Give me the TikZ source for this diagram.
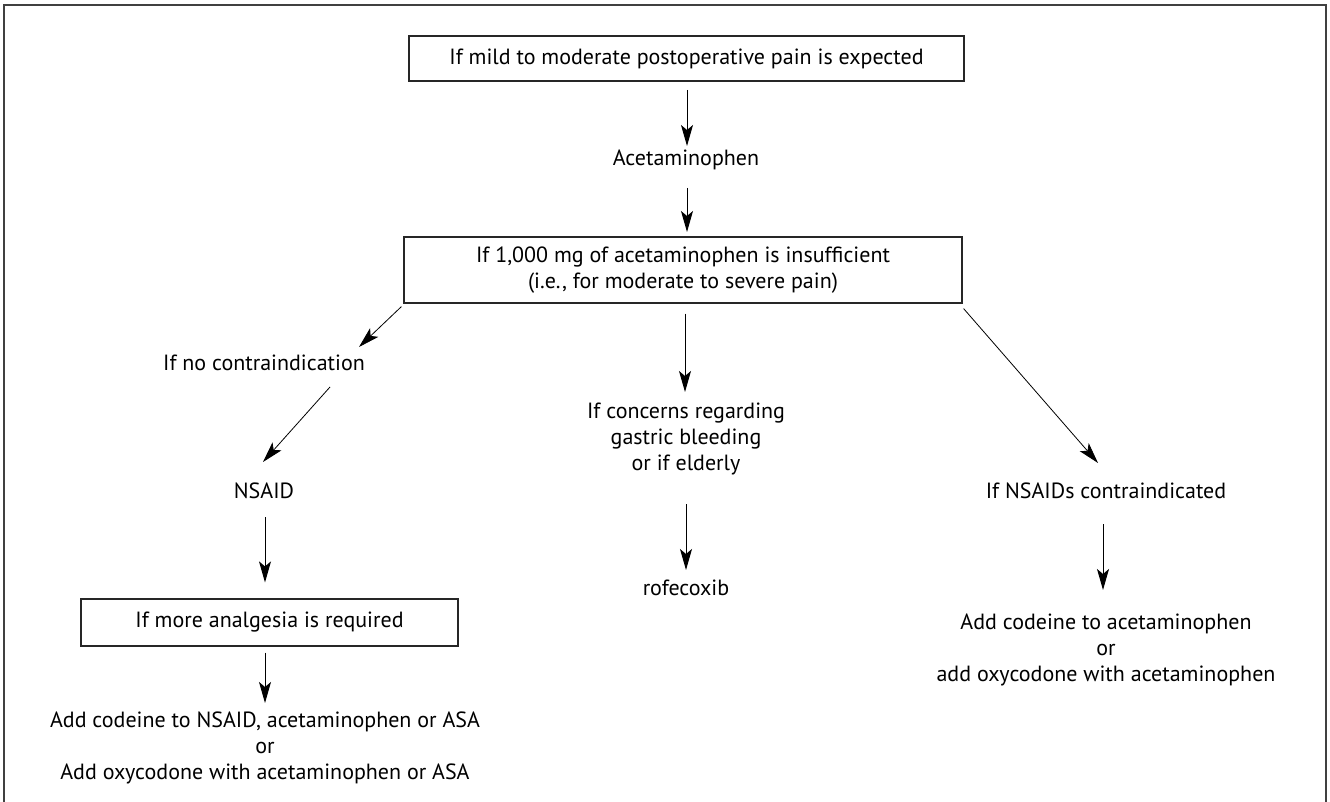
\documentclass[tikz,border=0pt]{standalone}
\usepackage{fontspec}
\setmainfont{PT Sans}
\usetikzlibrary{arrows.meta,calc}
\tikzset{
  boxnode/.style={draw=black!85, line width=1.2pt, minimum width=#1, inner sep=0pt, align=center, font=\txtfont},
  txt/.style={inner sep=0pt, align=center, font=\txtfont},
  arr/.style={draw=black, line width=1pt, -{Stealth[length=21pt, width=12pt, inset=5pt]}},
  arrthin/.style={draw=black, line width=0.8pt, -{Stealth[length=21pt, width=12pt, inset=5pt]}}
}
\newcommand{\txtfont}{\fontsize{22}{26}\selectfont}
\begin{document}
\begin{tikzpicture}[x=1pt,y=-1pt]
\useasboundingbox (0,0) rectangle (1330,802);
\fill[white] (0,0) rectangle (1330,802);
% outer frame
\draw[black!75, line width=1.5pt] (4,812) -- (4,5) -- (1326,5) -- (1326,812);

% nodes
\node[boxnode=555pt, minimum height=45pt] (top) at (686.5,58.5) {If mild to moderate postoperative pain is expected};
\node[txt] (acet) at (686,160) {Acetaminophen};
\node[boxnode=558pt, minimum height=66pt] (box2) at (683,270) {If 1,000 mg of acetaminophen is insufficient\\(i.e., for moderate to severe pain)};

\node[txt] (noc) at (264,363) {If no contraindication};
\node[txt] (nsaid) at (264,491) {NSAID};
\node[boxnode=377pt, minimum height=47pt] (box3) at (269.5,622.5) {If more analgesia is required};
\node[txt] (addL) at (265,748) {Add codeine to NSAID, acetaminophen or ASA\\or\\Add oxycodone with acetaminophen or ASA};

\node[txt] (conc) at (686,439) {If concerns regarding\\gastric bleeding\\or if elderly};
\node[txt] (rofe) at (686,588) {rofecoxib};

\node[txt] (nci) at (1106,491) {If NSAIDs contraindicated};
\node[txt] (addR) at (1106,650) {Add codeine to acetaminophen\\or\\add oxycodone with acetaminophen};

% connectors
\draw[arr] ($(top.center)+(0.5,31.5)$) -- ($(acet.center)+(1,-14)$);
\draw[arr] ($(acet.center)+(1,28)$) -- ($(box2.center)+(4,-38)$);
\draw[arrthin] ($(box2.south west)+(-2,3)$) -- ($(noc.center)+(95,-16)$);
\draw[arrthin] ($(noc.center)+(66,24)$) -- ($(nsaid.center)+(-1,-29)$);
\draw[arr] ($(nsaid.center)+(1,26)$) -- ($(box3.north)+(-4.5,-16)$);
\draw[arr] ($(box3.south)+(-4.5,6)$) -- ($(addL.center)+(0,-45)$);

\draw[arr] ($(box2.south)+(2,10)$) -- ($(conc.center)+(-1,-47)$);
\draw[arr] ($(conc.center)+(0,65)$) -- ($(rofe.center)+(0,-18)$);

\draw[arrthin] ($(box2.south east)+(1,5)$) -- ($(nci.center)+(-8,-28)$);
\draw[arr] ($(nci.center)+(-3,33)$) -- ($(addR.center)+(-3,-60)$);
\end{tikzpicture}
\end{document}
